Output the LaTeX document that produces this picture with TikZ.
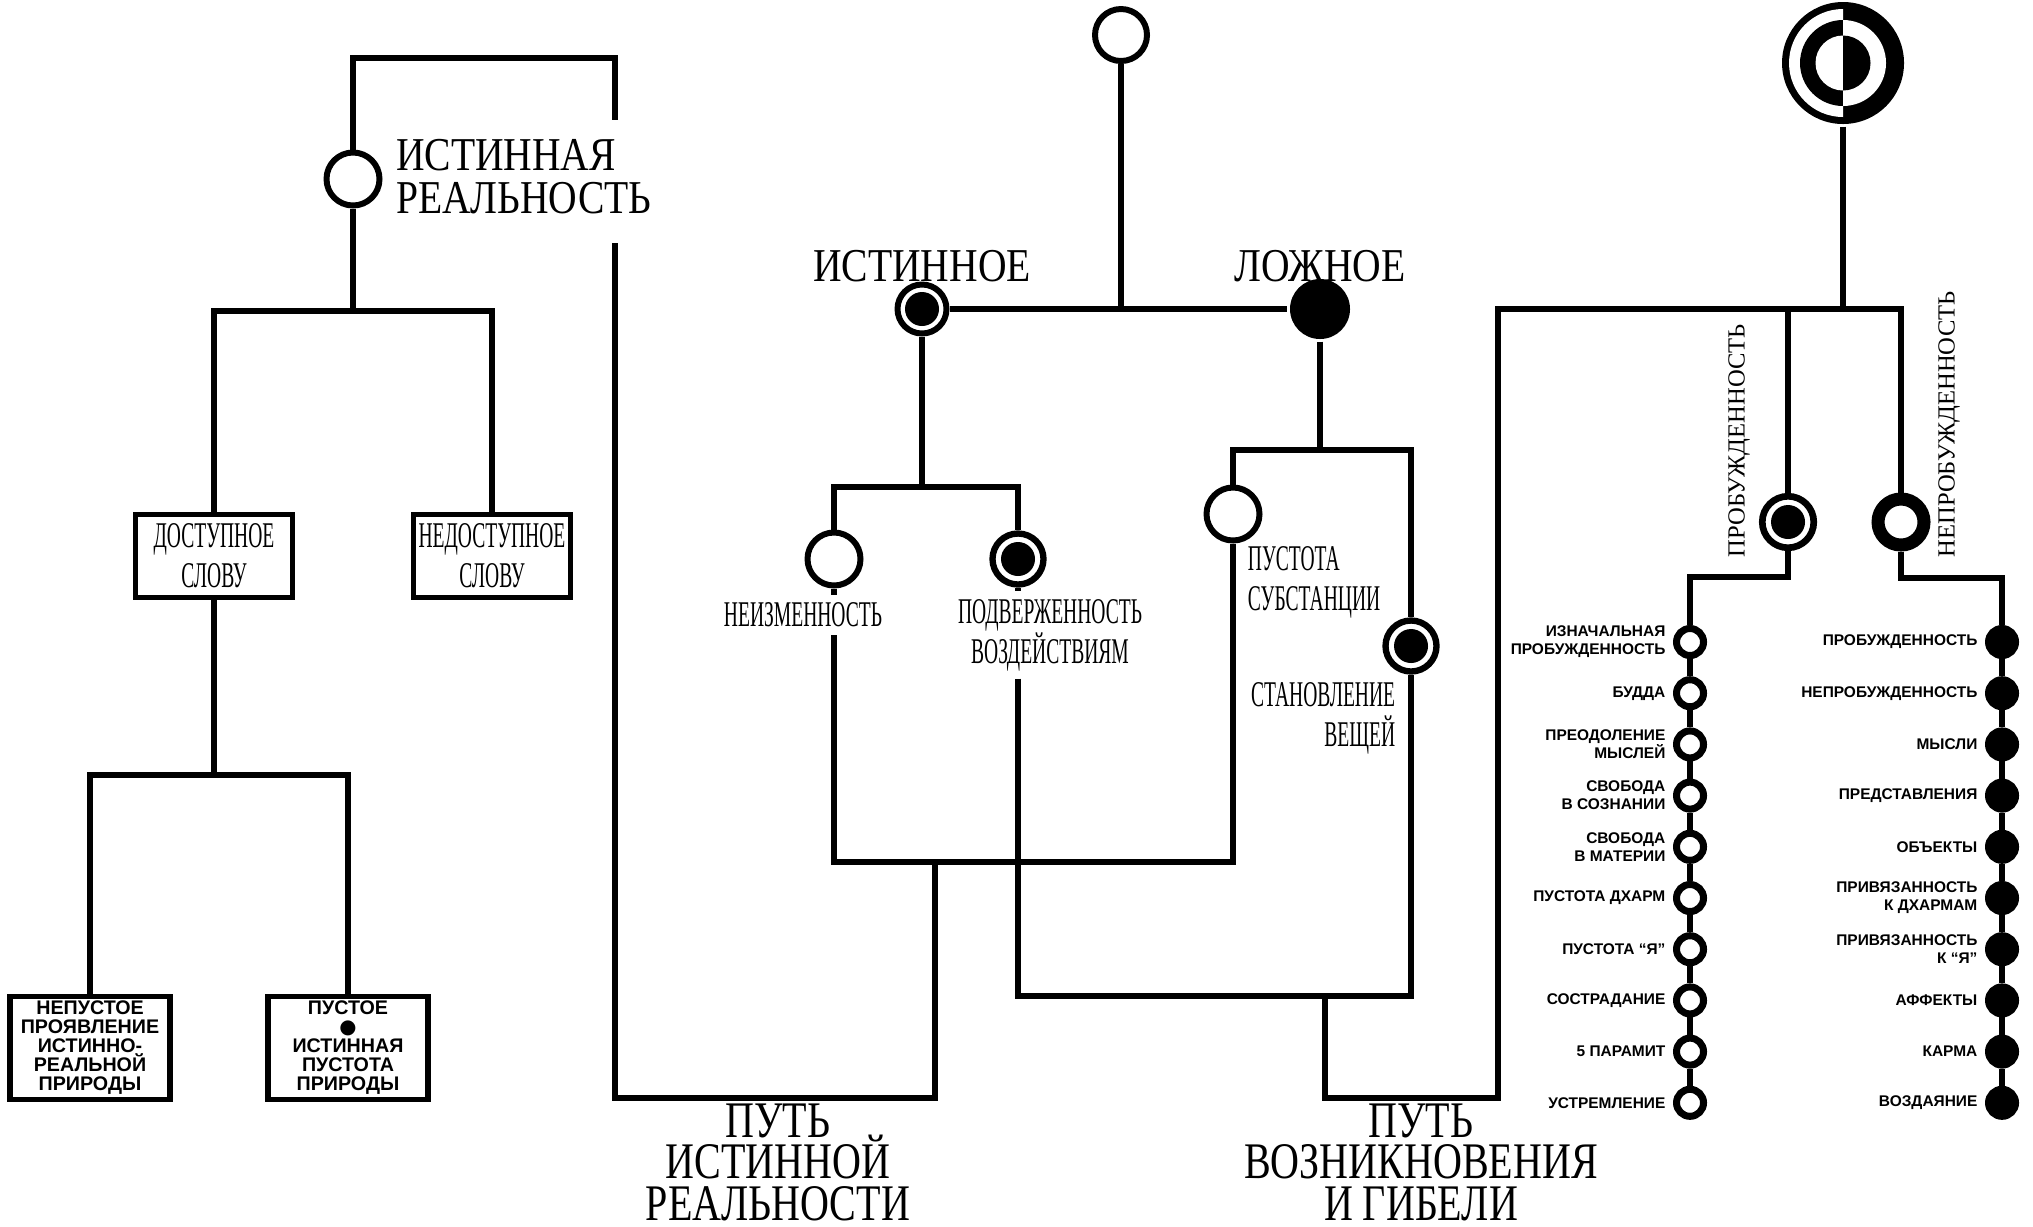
\documentclass[tikz,border=0pt]{standalone}
\usepackage{fontspec}
\setmainfont{Liberation Serif}
\newfontfamily\headserif[FakeStretch=0.84]{Liberation Serif}
\newfontfamily\pathserif[FakeStretch=0.78]{Liberation Serif}
\newfontfamily\condserif[FakeStretch=0.54]{Liberation Serif}
\newfontfamily\listsans{Liberation Sans}
\newfontfamily\dotfont{DejaVu Sans}
\newcommand\tightlines{\lineskiplimit=-20pt\relax}
\usetikzlibrary{positioning, calc}
\tikzset{
  every picture/.style={line width=1.5pt},
  opencirc/.style={circle, draw, fill=white, line width=1.7pt, minimum size=0.53cm, inner sep=0pt},
  blackcirc/.style={circle, fill=black, minimum size=0.6cm, inner sep=0pt},
  dotcirc/.style={circle, draw, fill=white, line width=1.8pt, minimum size=0.51cm, inner sep=0pt,
    path picture={\fill[black] (path picture bounding box.center) circle (0.17);}},
  ringcirc/.style={circle, draw, fill=white, line width=3.7pt, minimum size=0.46cm, inner sep=0pt},
  bead/.style={circle, draw, fill=#1, line width=2pt, minimum size=0.27cm, inner sep=0pt},
  bead/.default=white,
  wordbox/.style={draw, fill=white, line width=1.5pt, align=center, inner sep=0pt},
  headword/.style={font=\headserif\fontsize{13.4}{12.2}\selectfont, align=center, inner sep=1pt},
  pathword/.style={font=\pathserif\fontsize{14.6}{11.8}\selectfont\tightlines, align=center, inner sep=0pt},
  condword/.style={font=\condserif\fontsize{10.3}{11.3}\selectfont, align=center, inner sep=1.5pt},
  vertword/.style={font=\fontsize{7}{8}\selectfont, rotate=90, anchor=west, inner sep=0pt},
  tinyword/.style={font=\listsans\bfseries\fontsize{4.4}{5.1}\selectfont, align=right, inner sep=0pt},
  boxword/.style={font=\listsans\bfseries\fontsize{5.6}{5.4}\selectfont},
}
\begin{document}
\begin{tikzpicture}
  \useasboundingbox (0,0) rectangle (20.33,-12.26);
  % left tree: true reality
  \node[opencirc] (ir) at (3.53,-1.79) {};
  \node[headword, anchor=west, align=left] (irlab) at (3.90,-1.77) {ИСТИННАЯ\\РЕАЛЬНОСТЬ};
  \node[condword, wordbox, minimum width=1.57cm, minimum height=0.83cm] (dost) at (2.14,-5.56) {ДОСТУПНОЕ\\СЛОВУ};
  \node[condword, wordbox, minimum width=1.57cm, minimum height=0.83cm] (nedost) at (4.92,-5.56) {НЕДОСТУПНОЕ\\СЛОВУ};
  \node[boxword, wordbox, minimum width=1.60cm, minimum height=1.03cm] (nonempty) at (0.90,-10.48) {НЕПУСТОЕ\\ПРОЯВЛЕНИЕ\\ИСТИННО-\\РЕАЛЬНОЙ\\ПРИРОДЫ};
  \node[boxword, wordbox, minimum width=1.60cm, minimum height=1.03cm] (empty) at (3.48,-10.48) {ПУСТОЕ\\{\dotfont ●}\\ИСТИННАЯ\\ПУСТОТА\\ПРИРОДЫ};
  \coordinate (irfork) at (3.53,-3.11);
  \coordinate (dostfork) at (2.14,-7.75);
  \coordinate (brtop) at (6.15,-0.58);
  \coordinate (brgap) at (6.15,-1.20);
  \coordinate (brres) at (6.15,-2.43);
  \coordinate (truejoin) at (9.35,-8.62);
  \coordinate (truefoot) at (9.35,-10.98);
  \draw (ir) -- (irfork);
  \draw (dost.north) |- (irfork) -| (nedost.north);
  \draw (dost) -- (dostfork);
  \draw (nonempty.north) |- (dostfork) -| (empty.north);
  \draw (ir) |- (brtop) -- (brgap);
  \draw (brres) |- (truefoot) -- (truejoin);
  \node[pathword] (truepath) at (7.78,-11.62) {ПУТЬ\\ИСТИННОЙ\\РЕАЛЬНОСТИ};

  % middle tree: true and false
  \node[opencirc, minimum size=0.52cm] (origin) at (11.21,-0.35) {};
  \node[dotcirc, minimum size=0.49cm, line width=1.7pt] (true) at (9.22,-3.09) {};
  \node[blackcirc] (false) at (13.20,-3.09) {};
  \node[headword] (truelab) at (9.22,-2.66) {ИСТИННОЕ};
  \node[headword] (falselab) at (13.20,-2.66) {ЛОЖНОЕ};
  \draw (true) -- (false);
  \draw (origin) -- (origin |- true);
  \coordinate (truefork) at (9.22,-4.87);
  \coordinate (falsefork) at (13.20,-4.50);
  \node[opencirc] (const) at (8.34,-5.59) {};
  \node[dotcirc] (affect) at (10.18,-5.59) {};
  \node[opencirc] (void) at (12.33,-5.14) {};
  \node[dotcirc] (becoming) at (14.11,-6.46) {};
  \draw (true) -- (truefork);
  \draw (const) |- (truefork) -| (affect);
  \draw (false) -- (falsefork);
  \draw (void) |- (falsefork) -| (becoming);
  \node[condword] (constlab) at (8.03,-6.15) {НЕИЗМЕННОСТЬ};
  \node[condword] (affectlab) at (10.50,-6.35) {ПОДВЕРЖЕННОСТЬ\\ВОЗДЕЙСТВИЯМ};
  \node[condword, align=left, anchor=west] (voidlab) at (12.40,-5.82) {ПУСТОТА\\СУБСТАНЦИИ};
  \node[condword, align=right, anchor=east] (becominglab) at (14.03,-7.18) {СТАНОВЛЕНИЕ\\ВЕЩЕЙ};
  \draw (const) -- (const |- constlab.north);
  \draw (affect) -- (affect |- affectlab.north);
  \coordinate (birthjoin) at (13.25,-9.96);
  \coordinate (birthfoot) at (13.25,-10.98);
  \coordinate (rightbar) at (14.98,-3.09);
  \draw (const |- constlab.south) |- (truejoin) -| (void);
  \draw (affect |- affectlab.south) |- (birthjoin) -| (becoming);
  \node[pathword] (birthpath) at (14.21,-11.62) {ПУТЬ\\ВОЗНИКНОВЕНИЯ\\И ГИБЕЛИ};

  % right tree: awakening
  \node[circle, minimum size=1.22cm, inner sep=0pt] (sign) at (18.43,-0.63) {};
  \begin{scope}[shift={(sign.center)}]
    \fill (0,0) circle (0.61);
    \fill[white] (0,0.54) arc[start angle=90, end angle=270, radius=0.54] -- cycle;
    \fill (0,0.43) arc[start angle=90, end angle=270, radius=0.43] -- cycle;
    \fill[white] (0,0.275) arc[start angle=90, end angle=270, radius=0.275] -- cycle;
    \fill[white] (0,0.43) arc[start angle=90, end angle=-90, radius=0.43] -- cycle;
    \fill (0,0.275) arc[start angle=90, end angle=-90, radius=0.275] -- cycle;
  \end{scope}
  \node[dotcirc, minimum size=0.515cm, line width=1.9pt] (wake) at (17.88,-5.22) {};
  \node[ringcirc] (unwake) at (19.01,-5.22) {};
  \draw (sign) -- (sign |- rightbar);
  \draw (birthjoin) -- (birthfoot) -| (rightbar) -| (unwake);
  \draw (wake) -- (wake |- rightbar);
  \node[vertword] (wakelab) at (17.39,-5.60) {ПРОБУЖДЕННОСТЬ};
  \node[vertword] (unwakelab) at (19.49,-5.60) {НЕПРОБУЖДЕННОСТЬ};
  \coordinate (wakebend) at (17.88,-5.77);
  \coordinate (unwakebend) at (19.01,-5.78);
  \foreach \t [count=\i] in {{ИЗНАЧАЛЬНАЯ\\ПРОБУЖДЕННОСТЬ}, БУДДА, {ПРЕОДОЛЕНИЕ\\МЫСЛЕЙ}, {СВОБОДА\\В СОЗНАНИИ}, {СВОБОДА\\В МАТЕРИИ}, ПУСТОТА ДХАРМ, ПУСТОТА “Я”, СОСТРАДАНИЕ, 5 ПАРАМИТ, УСТРЕМЛЕНИЕ} {
    \node[bead] (g\i) at (16.90,{-6.42-0.512*(\i-1)}) {};
    \node[tinyword, left=0.05cm of g\i] (gl\i) {\t};
  }
  \foreach \t [count=\i] in {ПРОБУЖДЕННОСТЬ, НЕПРОБУЖДЕННОСТЬ, МЫСЛИ, ПРЕДСТАВЛЕНИЯ, ОБЪЕКТЫ, {ПРИВЯЗАННОСТЬ\\К ДХАРМАМ}, {ПРИВЯЗАННОСТЬ\\К “Я”}, АФФЕКТЫ, КАРМА, ВОЗДАЯНИЕ} {
    \node[bead=black] (b\i) at (20.02,{-6.42-0.512*(\i-1)}) {};
    \node[tinyword, left=0.05cm of b\i] (bl\i) {\t};
  }
  \foreach \i [count=\j from 2] in {1,...,9} {
    \draw (g\i) -- (g\j);
    \draw (b\i) -- (b\j);
  }
  \draw (wake) -- (wakebend) -| (g1);
  \draw (unwake) -- (unwakebend) -| (b1);
\end{tikzpicture}
\end{document}
